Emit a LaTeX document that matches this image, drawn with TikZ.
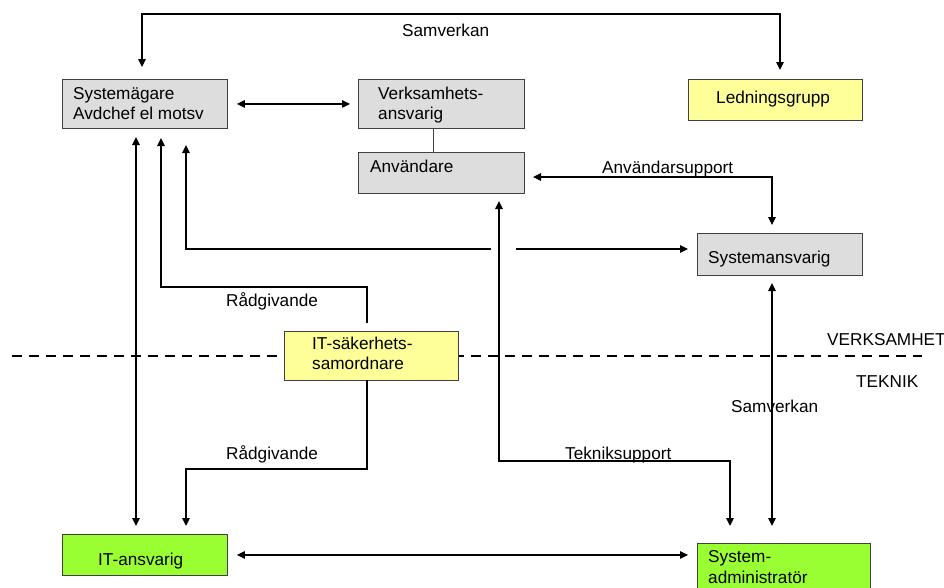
\documentclass[tikz,border=0pt]{standalone}
\usepackage{fontspec}
\setmainfont{Liberation Sans}
\usetikzlibrary{arrows.meta}
\definecolor{boxgray}{HTML}{DDDDDD}
\definecolor{boxyellow}{HTML}{FFFF99}
\definecolor{boxgreen}{HTML}{99FF33}
\definecolor{edgegray}{HTML}{404040}
\begin{document}
\begin{tikzpicture}[x=1pt,y=-1pt,
  box/.style={draw=edgegray,line width=0.9pt,inner sep=0pt,anchor=north west},
  lbl/.style={anchor=base west,inner sep=0pt,font=\fontsize{17.2}{20.5}\selectfont,align=left},
  conn/.style={draw=black,line width=1.1pt},
  tipend/.style={-{Triangle[length=8pt,width=7.5pt]}},
  tipstart/.style={{Triangle[length=8pt,width=7.5pt]}-},
  dbl/.style={{Triangle[length=8pt,width=7.5pt]}-{Triangle[length=8pt,width=7.5pt]}}]
\clip (0,0) rectangle (944,587);
\fill[white] (0,0) rectangle (944,587);
% dashed separator
\coordinate (dashL) at (12,356);
\coordinate (dashR) at (922,356);
\draw[line width=1.5pt,dash pattern=on 10pt off 7pt] (dashL) -- (dashR);
% boxes
\node[box,fill=boxgray,minimum width=165pt,minimum height=49pt] (sys) at (62,79) {};
\node[box,fill=boxgray,minimum width=166pt,minimum height=49pt] (verk) at (358,79) {};
\node[box,fill=boxgray,minimum width=166pt,minimum height=41pt] (anv) at (358,152) {};
\node[box,fill=boxyellow,minimum width=174pt,minimum height=41pt] (led) at (688,79) {};
\node[box,fill=boxgray,minimum width=165pt,minimum height=42pt] (sysans) at (697,233) {};
\node[box,fill=boxyellow,minimum width=174pt,minimum height=49pt] (itsak) at (284,331) {};
\node[box,fill=boxgreen,minimum width=165pt,minimum height=41pt] (itans) at (62,534) {};
\node[box,fill=boxgreen,minimum width=173pt,minimum height=60pt] (sysadm) at (697,543) {};
% box texts (multi-line: anchor at baseline of last line)
\node[lbl] (tsys) at (73,119.5) {Systemägare\\Avdchef el motsv};
\node[lbl] (tverk) at (378,119.5) {Verksamhets-\\ansvarig};
\node[lbl] (tanv) at (370,172) {Användare};
\node[lbl] (tled) at (716,103) {Ledningsgrupp};
\node[lbl] (tsysans) at (708,263) {Systemansvarig};
\node[lbl] (titsak) at (312,369.5) {IT-säkerhets-\\samordnare};
\node[lbl] (titans) at (98,565) {IT-ansvarig};
\node[lbl] (tsysadm) at (708,583) {System-\\administratör};
% free labels
\node[lbl] (lsam1) at (402,36) {Samverkan};
\node[lbl] (lanvsup) at (602,173) {Användarsupport};
\node[lbl] (lrad1) at (226,306) {Rådgivande};
\node[lbl] (lrad2) at (226,459) {Rådgivande};
\node[lbl] (ltek) at (565,459) {Tekniksupport};
\node[lbl] (lsam2) at (731,412) {Samverkan};
\node[lbl] (lverks) at (827,345) {VERKSAMHET};
\node[lbl] (lteknik) at (856,387) {TEKNIK};
% connector end points
\coordinate (sysTopTip) at (142,67);
\coordinate (ledTopTip) at (780,70);
\coordinate (sysBot1) at (136,137);
\coordinate (sysBot2) at (161,138);
\coordinate (sysBot3) at (186,145);
\coordinate (itansTop1) at (136,526);
\coordinate (itansTop2) at (186,526);
\coordinate (itsakTop) at (367,323);
\coordinate (itsakBot) at (367,380);
\coordinate (anvRight) at (533,177);
\coordinate (anvBot) at (499,201);
\coordinate (sysansTop) at (772,225);
\coordinate (sysansLeft) at (688,249);
\coordinate (sysansBot) at (772,283);
\coordinate (sysadmTop1) at (730,526);
\coordinate (sysadmTop2) at (772,526);
% connectors
\draw[conn,dbl] (sysTopTip) -- (142,14) -| (ledTopTip);
\draw[conn,dbl,shorten <=9pt,shorten >=8pt] (sys.east) -- (verk.west);
\draw[edgegray,line width=1pt] ([xshift=-8pt]verk.south) -- ([xshift=-8pt]anv.north);
\draw[conn,dbl] (anvRight) -| (sysansTop);
\draw[conn,dbl] (sysBot1) -- (itansTop1);
\draw[conn,tipstart] (sysBot2) |- (367,287) -- (itsakTop);
\draw[conn,tipend] (itsakBot) |- (186,469) -- (itansTop2);
\draw[conn,tipstart] (sysBot3) |- (491,249);
\draw[conn,tipend] (516,249) -- (sysansLeft);
\draw[conn,dbl] (anvBot) |- (730,461) -- (sysadmTop1);
\draw[conn,dbl] (sysansBot) -- (sysadmTop2);
\draw[conn,dbl,shorten <=9pt,shorten >=9pt] (itans.east) -- (sysadm.west |- itans.east);
\end{tikzpicture}
\end{document}
